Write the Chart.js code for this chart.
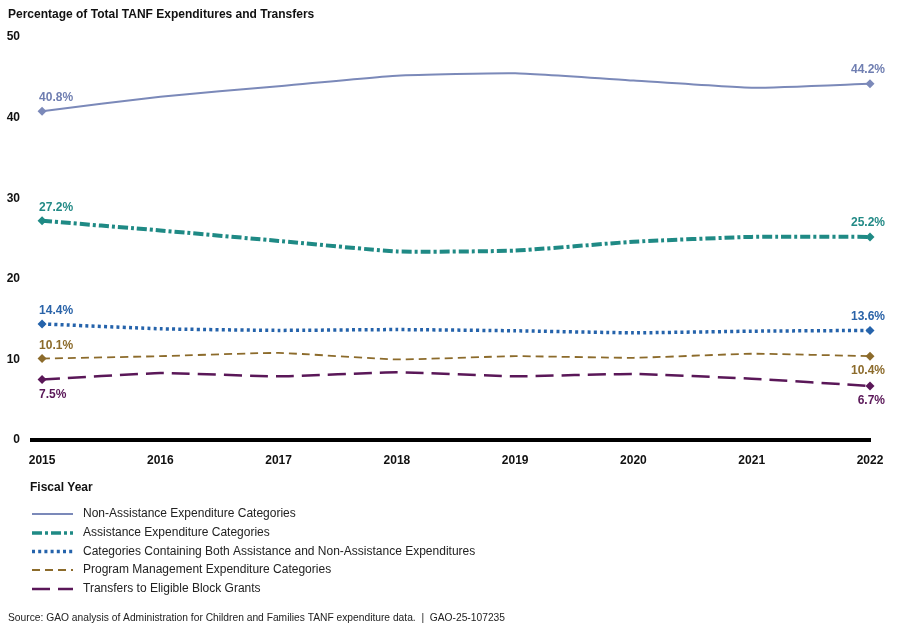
<!DOCTYPE html>
<html><head><meta charset="utf-8">
<script src="https://cdn.jsdelivr.net/npm/chart.js@4"></script>
<style>html,body{margin:0;padding:0;background:#fff}</style>
</head><body>
<canvas id="c" width="900" height="632"></canvas>
<script>
const years = [2015, 2016, 2017, 2018, 2019, 2020, 2021, 2022];
const seriesNames = [
  'Non-Assistance Expenditure Categories',
  'Assistance Expenditure Categories',
  'Categories Containing Both Assistance and Non-Assistance Expenditures',
  'Program Management Expenditure Categories',
  'Transfers to Eligible Block Grants'
];
const nonAssistance = [40.8, 42.6, 43.9, 45.2, 45.5, 44.6, 43.7, 44.2];
const assistance    = [27.2, 26.0, 24.7, 23.4, 23.5, 24.6, 25.2, 25.2];
const both          = [14.4, 13.8, 13.6, 13.7, 13.55, 13.3, 13.5, 13.6];
const programMgmt   = [10.1, 10.4, 10.8, 10.0, 10.4, 10.2, 10.7, 10.4];
const transfers     = [7.5, 8.3, 7.9, 8.4, 7.9, 8.2, 7.6, 6.7];
const yTicks = [0, 10, 20, 30, 40, 50];
const labelSideStart = ['above', 'above', 'above', 'above', 'below'];
const labelSideEnd   = ['above', 'above', 'above', 'below', 'below'];

const seriesValues = [nonAssistance, assistance, both, programMgmt, transfers];
const styles = [
  {color: '#7b89b9', label: '#6f7eb1', width: 2,   dash: []},
  {color: '#1f8a85', label: '#238a86', width: 4,   dash: [10, 3, 3, 3]},
  {color: '#2563ab', label: '#2a63a8', width: 3.5, dash: [3, 3.2]},
  {color: '#8c6b2b', label: '#8c6b2b', width: 1.8, dash: [8, 5]},
  {color: '#5a1758', label: '#5a1758', width: 2.5, dash: [18, 8]}
];
const last = years.length - 1;

const datasets = seriesValues.map((vals, i) => ({
  label: seriesNames[i],
  data: vals.map((v, j) => ({x: years[j], y: v})),
  borderColor: styles[i].color,
  backgroundColor: styles[i].color,
  borderWidth: styles[i].width,
  borderDash: styles[i].dash,
  tension: 0.15,
  fill: false,
  clip: false,
  pointStyle: 'rectRot',
  pointRadius: ctx => (ctx.dataIndex === 0 || ctx.dataIndex === last) ? 4.5 : 0,
  pointHoverRadius: 0,
  pointBackgroundColor: styles[i].color,
  pointBorderWidth: 0
}));

const FONT = '"Liberation Sans", Arial, sans-serif';

const decor = {
  id: 'decor',
  afterDatasetsDraw(chart) {
    const ctx = chart.ctx;
    ctx.save();
    ctx.font = 'bold 12px ' + FONT;
    ctx.textBaseline = 'middle';
    chart.data.datasets.forEach((ds, i) => {
      const meta = chart.getDatasetMeta(i);
      const p0 = meta.data[0], p1 = meta.data[last];
      ctx.fillStyle = styles[i].label;
      ctx.textAlign = 'left';
      const t0 = seriesValues[i][0].toFixed(1) + '%';
      ctx.fillText(t0, p0.x - 3, p0.y + (labelSideStart[i] === 'above' ? -13 : 15));
      ctx.textAlign = 'right';
      const t1 = seriesValues[i][last].toFixed(1) + '%';
      ctx.fillText(t1, p1.x + 15, p1.y + (labelSideEnd[i] === 'above' ? -14 : 15));
    });
    ctx.restore();
  },
  afterDraw(chart) {
    const ctx = chart.ctx;
    ctx.save();
    ctx.fillStyle = '#111';
    ctx.textBaseline = 'middle';
    ctx.textAlign = 'left';
    ctx.font = 'bold 12px ' + FONT;
    ctx.fillText('Percentage of Total TANF Expenditures and Transfers', 8, 15);
    ctx.fillText('Fiscal Year', 30, 488);
    // legend
    const rowY = [514, 533, 551.5, 570, 589];
    chart.data.datasets.forEach((ds, i) => {
      ctx.save();
      ctx.strokeStyle = styles[i].color;
      ctx.lineWidth = Math.min(styles[i].width, 3.5);
      ctx.setLineDash(styles[i].dash);
      ctx.beginPath();
      ctx.moveTo(32, rowY[i]);
      ctx.lineTo(73, rowY[i]);
      ctx.stroke();
      ctx.restore();
      ctx.fillStyle = '#222';
      ctx.font = '12px ' + FONT;
      ctx.fillText(seriesNames[i], 83, rowY[i]);
    });
    ctx.font = '10.25px ' + FONT;
    ctx.fillStyle = '#222';
    ctx.fillText('Source: GAO analysis of Administration for Children and Families TANF expenditure data.  |  GAO-25-107235', 8, 618);
    ctx.restore();
  }
};

new Chart(document.getElementById('c'), {
  type: 'line',
  data: {datasets},
  options: {
    responsive: false,
    animation: false,
    layout: {padding: {left: 0, right: 30, top: 37, bottom: 0}},
    plugins: {legend: {display: false}, tooltip: {enabled: false}},
    scales: {
      x: {
        type: 'linear',
        min: 2014.915,
        max: 2022,
        afterFit: s => { s.height = 192; },
        afterBuildTicks: s => { s.ticks = years.map(v => ({value: v})); },
        grid: {display: false, drawTicks: false},
        border: {display: true, color: '#000', width: 4},
        ticks: {
          padding: 13,
          color: '#111',
          font: {family: FONT, size: 12, weight: 'bold'},
          callback: v => String(v),
          maxRotation: 0,
          autoSkip: false
        }
      },
      y: {
        min: 0,
        max: 50,
        afterFit: s => { s.width = 32; },
        afterBuildTicks: s => { s.ticks = yTicks.map(v => ({value: v})); },
        grid: {display: false, drawTicks: false},
        border: {display: false},
        ticks: {
          padding: 12,
          color: '#111',
          font: {family: FONT, size: 12, weight: 'bold'}
        }
      }
    }
  },
  plugins: [decor]
});
</script>
</body></html>
